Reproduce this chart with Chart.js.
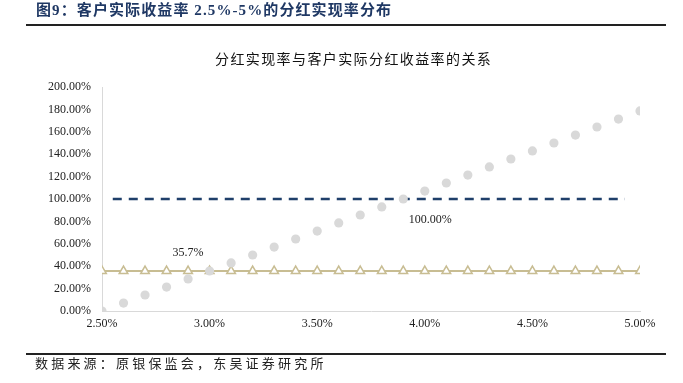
<!DOCTYPE html>
<html>
<head>
<meta charset="utf-8">
<script src="https://cdn.jsdelivr.net/npm/chart.js@4"></script>
<style>
  html, body { margin:0; padding:0; background:#fff; }
  #wrap { position:relative; width:683px; height:383px; overflow:hidden; }
  #c { position:absolute; left:0; top:0; }
  .txt { position:absolute; white-space:nowrap; font-family:"Liberation Serif","Noto Sans CJK SC",serif; }
  #head { left:36px; top:1px; font-size:15px; font-weight:bold; color:#1f3864; letter-spacing:1.1px; line-height:18px; }
  #title { left:215px; top:49px; font-size:14px; color:#111; letter-spacing:1.4px; line-height:18px; font-family:"Noto Sans CJK SC",sans-serif; }
  #foot { left:35px; top:355px; font-size:13px; color:#222; letter-spacing:3.2px; line-height:16px; font-family:"Noto Sans CJK SC",sans-serif; }
  .rule { position:absolute; left:26px; width:640px; height:2px; background:#222; }
</style>
</head>
<body>
<div id="wrap">
  <canvas id="c" width="683" height="383"></canvas>
  <div class="txt" id="head">图9：客户实际收益率 2.5%-5%的分红实现率分布</div>
  <div class="rule" style="top:24px"></div>
  <div class="txt" id="title">分红实现率与客户实际分红收益率的关系</div>
  <div class="rule" style="top:353px"></div>
  <div class="txt" id="foot">数据来源：原银保监会，东吴证券研究所</div>
</div>
<script>
// 客户实际收益率 (%)
const yieldRates = [2.5,2.6,2.7,2.8,2.9,3.0,3.1,3.2,3.3,3.4,3.5,3.6,3.7,3.8,3.9,4.0,4.1,4.2,4.3,4.4,4.5,4.6,4.7,4.8,4.9,5.0];
// 分红实现率 (%)
const realization = [0,7.1,14.3,21.4,28.6,35.7,42.9,50.0,57.1,64.3,71.4,78.6,85.7,92.9,100.0,107.1,114.3,121.4,128.6,135.7,142.9,150.0,157.1,164.3,171.4,178.6];
const floorLevel = [35.7,35.7,35.7,35.7,35.7,35.7,35.7,35.7,35.7,35.7,35.7,35.7,35.7,35.7,35.7,35.7,35.7,35.7,35.7,35.7,35.7,35.7,35.7,35.7,35.7,35.7];
const fullLineX = [2.55, 4.93];
const fullLineY = [100, 100];

const pts = (xs, ys) => xs.map((x,i)=>({x, y: ys[i]}));

// data labels drawn next to a chosen point
const labelPlugin = {
  id:'pointLabels',
  afterDatasetsDraw(chart){
    const ctx = chart.ctx;
    const put = (ds, idx, text, dx, dy) => {
      const el = chart.getDatasetMeta(ds).data[idx];
      ctx.save();
      ctx.font = '12px "Liberation Serif"';
      ctx.fillStyle = '#222';
      ctx.textAlign = 'center';
      ctx.textBaseline = 'middle';
      ctx.fillText(text, el.x + dx, el.y + dy);
      ctx.restore();
    };
    put(1, 4, '35.7%', 0, -18);
    put(0, 14, '100.00%', 27, 21);
  }
};

new Chart(document.getElementById('c').getContext('2d'), {
  type:'scatter',
  data:{ datasets:[
    { label:'分红实现率', data: pts(yieldRates, realization), showLine:false,
      pointRadius:4.6, pointHoverRadius:4.6, backgroundColor:'#d9d9d9', borderWidth:0, order:0 },
    { label:'35.7%', data: pts(yieldRates, floorLevel), showLine:true,
      borderColor:'#c8bd93', borderWidth:2, pointStyle:'triangle', pointRadius:5,
      pointBackgroundColor:'#fff', pointBorderColor:'#c8bd93', pointBorderWidth:1.5, order:1 },
    { label:'100%', data: pts(fullLineX, fullLineY), showLine:true,
      borderColor:'#1f3f6a', borderWidth:2.5, borderDash:[9,7], pointRadius:0, order:2 }
  ]},
  options:{
    responsive:false, animation:false,
    layout:{ padding:{ left:32, right:43, top:87, bottom:0 } },
    plugins:{ legend:{display:false}, tooltip:{enabled:false} },
    scales:{
      x:{ type:'linear', min:2.5, max:5.0,
        grid:{display:false, drawTicks:false},
        border:{display:true, color:'#d9d9d9', width:1},
        ticks:{ stepSize:0.5, padding:6, color:'#222', font:{family:'"Liberation Serif"', size:12},
          callback:v=>v.toFixed(2)+'%' },
        afterFit:s=>{ s.height = 72; } },
      y:{ min:0, max:200,
        grid:{display:false, drawTicks:false},
        border:{display:true, color:'#d9d9d9', width:1},
        ticks:{ stepSize:20, padding:11, color:'#222', font:{family:'"Liberation Serif"', size:12},
          callback:v=>v.toFixed(2)+'%' },
        afterFit:s=>{ s.width = 70; } }
    }
  },
  plugins:[labelPlugin]
});
</script>
</body>
</html>
